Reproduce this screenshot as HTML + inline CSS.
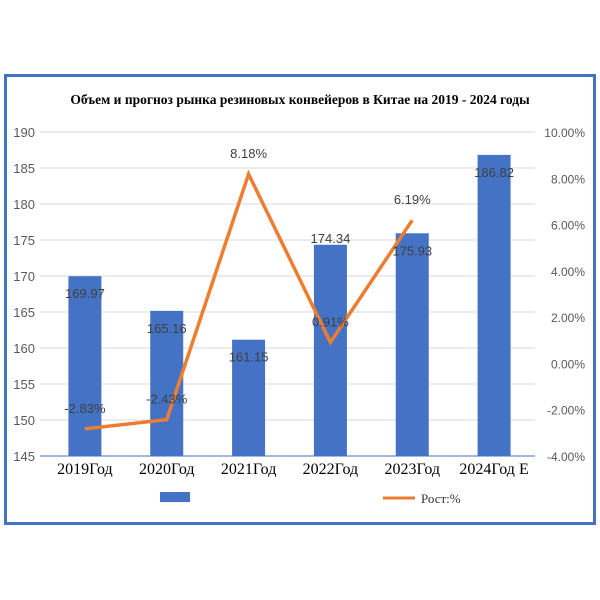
<!DOCTYPE html>
<html><head><meta charset="utf-8"><style>
body{margin:0;background:#fff;width:600px;height:600px;overflow:hidden}
svg{display:block}
</style></head><body>
<svg width="600" height="600" xmlns="http://www.w3.org/2000/svg">
<rect x="5.5" y="75.5" width="589" height="448" fill="#fff" stroke="#4472C4" stroke-width="3"/>
<text x="300" y="104" text-anchor="middle" font-family="Liberation Serif, serif" font-weight="bold" font-size="13.5" fill="#000">Объем и прогноз рынка резиновых конвейеров в Китае на 2019 - 2024 годы</text>
<g id="grid"></g><g id="bars"></g><g id="line"></g><g id="labels"></g>
<g>
<rect x="160" y="492" width="30" height="10" fill="#4472C4"/>
<line x1="383" y1="498" x2="415" y2="498" stroke="#ED7D31" stroke-width="3"/>
<text x="421" y="503" font-family="Liberation Serif, serif" font-size="13" fill="#333">Рост:%</text>
</g>
</svg>
<script>
const categories=["2019Год","2020Год","2021Год","2022Год","2023Год","2024Год E"];
const volumes=[169.97,165.16,161.15,174.34,175.93,186.82];
const growth=[-2.83,-2.43,8.18,0.91,6.19,null];
const leftTicks=[145,150,155,160,165,170,175,180,185,190];
const rightTicks=[-4,-2,0,2,4,6,8,10];
const NS="http://www.w3.org/2000/svg";
const x0=40,x1=535,yTop=132,yBot=456;
const yL=v=>yBot-(v-145)/(190-145)*(yBot-yTop);
const yR=v=>yBot-(v+4)/14*(yBot-yTop);
const xC=i=>x0+4+(i+0.5)*(x1-x0-4)/categories.length;
function mk(tag,attrs,parent){const e=document.createElementNS(NS,tag);for(const k in attrs)e.setAttribute(k,attrs[k]);document.getElementById(parent).appendChild(e);return e;}
leftTicks.forEach(t=>{
 const l=mk('line',{x1:x0,x2:x1,y1:yL(t),y2:yL(t),stroke:t===145?'#4472C4':'#d9d9d9','stroke-width':1},'grid');
 
 
 const tx=mk('text',{x:35,y:yL(t)+5,'text-anchor':'end','font-family':'Liberation Sans, sans-serif','font-size':13,fill:'#595959'},'grid');
 tx.textContent=t;
 
 
});
rightTicks.forEach(t=>{
 const tx=mk('text',{x:585,y:yR(t)+5,'text-anchor':'end','font-family':'Liberation Sans, sans-serif','font-size':12,fill:'#595959'},'grid');
 tx.textContent=t.toFixed(2)+'%';
 
 
});
categories.forEach((c,i)=>{
 const tx=mk('text',{x:xC(i),y:474,'text-anchor':'middle','font-family':'Liberation Serif, serif','font-size':16,fill:'#000'},'labels');
 tx.textContent=c;
 
 
});
volumes.forEach((v,i)=>{
 const r=mk('rect',{x:xC(i)-16.5,y:yL(v),width:33,height:yBot-yL(v),fill:'#4472C4'},'bars');
 
 
 const above=i===3;
 const tx=mk('text',{x:xC(i),y:above?yL(v)-2:yL(v)+22,'text-anchor':'middle','font-family':'Liberation Sans, sans-serif','font-size':13,fill:'#404040'},'labels');
 tx.textContent=v.toFixed(2);
 
 
});
let pts=[];
growth.forEach((g,i)=>{ if(g===null)return; pts.push(xC(i)+','+yR(g));
 const tx=mk('text',{x:xC(i),y:yR(g)-16,'text-anchor':'middle','font-family':'Liberation Sans, sans-serif','font-size':13,fill:'#404040'},'labels');
 tx.textContent=g.toFixed(2)+'%';
 
 
});
const pl=mk('polyline',{points:pts.join(' '),fill:'none',stroke:'#ED7D31','stroke-width':3.5,'stroke-linejoin':'miter'},'line');


</script>
</body></html>
